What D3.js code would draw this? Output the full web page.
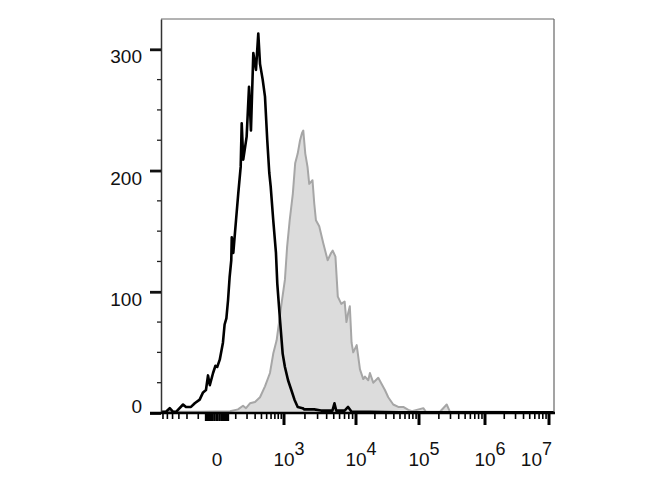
<!DOCTYPE html>
<html>
<head>
<meta charset="utf-8">
<script src="https://cdn.jsdelivr.net/npm/d3@7"></script>
<style>
  html, body { margin: 0; padding: 0; background: #fff; }
  svg { display: block; font-family: "Liberation Sans", Arial, sans-serif; }
</style>
</head>
<body>
<svg id="chart" width="670" height="500"></svg>
<script>
// ---- Data (fluorescence value, event count) ----
const controlHistogram = [
  [-649, 1], [-528, 1], [-452, 4], [-391, 1], [-342, 1], [-245, 7], [-211, 5], [-160, 5],
  [-127, 8], [-90, 11], [-68, 17], [-51, 19], [-40, 31], [-31, 23], [-16, 33], [-6, 39],
  [1, 38], [11, 44], [25, 58], [33, 73], [42, 78], [51, 93], [60, 112], [70, 126],
  [73, 145], [83, 132], [102, 159], [119, 181], [139, 203], [148, 239], [162, 209],
  [196, 228], [222, 269], [245, 233], [275, 297], [312, 283], [347, 313], [375, 288],
  [422, 275], [466, 261], [513, 225], [558, 198], [591, 187], [656, 159], [731, 132],
  [770, 107], [856, 77], [950, 49], [1032, 38], [1147, 27], [1279, 19], [1421, 11],
  [1580, 5], [1854, 4], [1958, 3], [2697, 3], [3342, 2], [4797, 2], [5110, 8], [5395, 2],
  [7025, 2], [7816, 5], [8715, 1], [16670, 1], [49900, 0.5], [295000, 0.5],
  [1710000, 0.5], [12000000, 0.5]
];
const stainedHistogram = [
  [-649, 1], [-88, 1], [62, 1.5], [117, 3], [160, 6], [189, 4], [233, 8], [298, 9],
  [375, 13], [466, 22], [574, 33], [656, 49], [751, 60], [914, 91], [1032, 110],
  [1111, 137], [1212, 159], [1346, 181], [1454, 206], [1580, 214], [1707, 225],
  [1820, 231], [1896, 233], [2022, 214], [2175, 203], [2296, 189], [2552, 192],
  [2697, 173], [2847, 159], [3162, 154], [3594, 140], [4125, 126], [4597, 132],
  [4839, 134], [5270, 129], [5675, 96], [6324, 90], [7025, 92], [7430, 75], [7816, 82],
  [8254, 88], [8715, 58], [9173, 50], [10260, 56], [11570, 36], [13060, 28], [13900, 30],
  [15680, 27], [16670, 33], [18820, 25], [22620, 29], [25580, 24], [28840, 19],
  [32570, 13], [39090, 7], [46930, 5], [56370, 5], [67680, 2.5], [77400, 1.5],
  [116200, 4], [127600, 1], [208000, 1], [263000, 7], [295000, 1], [1710000, 1],
  [12000000, 0.5]
];
const yTickValues = [0, 100, 200, 300];
const yTickLabels = ["0", "100", "200", "300"];
const xTickValues = [0, 1e3, 1e4, 1e5, 1e6, 1e7];
const xTickLabels = ["0", "10^3", "10^4", "10^5", "10^6", "10^7"];

// ---- Layout ----
const svg = d3.select("#chart");
const M = { left: 161, right: 554, top: 19, bottom: 413 };

// biexponential-like display scale (linear near zero, log for large values)
const x = d3.scaleSymlog().constant(110)
  .domain([-650, 0, 1e3, 1e4, 1e5, 1e6, 1e7, 1.2e7])
  .range([M.left, 217, 284, 356, 419, 485, 549, M.right]);
const y = d3.scaleLinear().domain([0, 325]).range([M.bottom, M.top]);

// ---- Histograms ----
const area = d3.area().x(d => x(d[0])).y0(y(0)).y1(d => y(d[1]));
const line = d3.line().x(d => x(d[0])).y(d => y(d[1]));

svg.append("path").datum(stainedHistogram)
  .attr("d", area).attr("fill", "#dcdcdc").attr("stroke", "none");
svg.append("path").datum(stainedHistogram)
  .attr("d", line).attr("fill", "none").attr("stroke", "#a6a6a6")
  .attr("stroke-width", 2).attr("stroke-linejoin", "round");
svg.append("path").datum(controlHistogram)
  .attr("d", line).attr("fill", "none").attr("stroke", "#000")
  .attr("stroke-width", 2.6).attr("stroke-linejoin", "round");

// ---- Frame ----
svg.append("line").attr("x1", M.left).attr("x2", M.right).attr("y1", M.top).attr("y2", M.top)
  .attr("stroke", "#666").attr("stroke-width", 1);
svg.append("line").attr("x1", M.right).attr("x2", M.right).attr("y1", M.top).attr("y2", M.bottom)
  .attr("stroke", "#666").attr("stroke-width", 1.2);

// ---- Y axis ----
const yMinor = d3.range(25, 325, 25).filter(v => v % 100 !== 0);
const yAxisMajor = d3.axisLeft(y).tickValues(yTickValues)
  .tickFormat((d, i) => yTickLabels[i]).tickSize(11).tickSizeOuter(0).tickPadding(8);
const gy = svg.append("g").attr("transform", `translate(${M.left},0)`).call(yAxisMajor);
gy.select(".domain").attr("stroke", "#333").attr("stroke-width", 1.5);
gy.selectAll(".tick line").attr("stroke", "#111").attr("stroke-width", 2.8);
gy.selectAll(".tick text").attr("font-size", 19).attr("fill", "#111")
  .attr("font-family", "Liberation Sans, Arial, sans-serif")
  .attr("dy", d => d === 0 ? "-0.02em" : "0.72em");
svg.append("g").selectAll("line").data(yMinor).join("line")
  .attr("x1", M.left - 4).attr("x2", M.left).attr("y1", d => y(d)).attr("y2", d => y(d))
  .attr("stroke", "#222").attr("stroke-width", 1.3);

// ---- X axis ----
const xMinor = [];
for (let v = -600; v <= -100; v += 100) xMinor.push(v);
for (let v = -50; v <= 50; v += 10) xMinor.push(v);
for (let v = 100; v <= 900; v += 100) xMinor.push(v);
for (let e = 3; e <= 6; e++) for (let m = 2; m <= 9; m++) xMinor.push(m * Math.pow(10, e));

svg.append("line").attr("x1", 150).attr("x2", M.right + 1).attr("y1", M.bottom).attr("y2", M.bottom)
  .attr("stroke", "#000").attr("stroke-width", 2.6);
svg.append("g").selectAll("line").data(xMinor).join("line")
  .attr("x1", d => x(d)).attr("x2", d => x(d))
  .attr("y1", M.bottom).attr("y2", d => Math.abs(d) <= 50 ? M.bottom + 8 : M.bottom + 6)
  .attr("stroke", "#000").attr("stroke-width", d => Math.abs(d) <= 50 ? 2.6 : 1.6);
svg.append("g").selectAll("line").data(xTickValues.filter(v => v > 0)).join("line")
  .attr("x1", d => x(d)).attr("x2", d => x(d))
  .attr("y1", M.bottom).attr("y2", M.bottom + 12)
  .attr("stroke", "#000").attr("stroke-width", 3);

const xl = svg.append("g").attr("font-size", 19).attr("fill", "#111");
xTickValues.forEach((v, i) => {
  const parts = xTickLabels[i].split("^");
  const last = i === xTickValues.length - 1;
  const t = xl.append("text").attr("y", 466).attr("fill", "#111");
  t.append("tspan").text(parts[0]);
  if (parts[1]) t.append("tspan").attr("font-size", 18).attr("dy", -11).text(parts[1]);
  const w = t.node().getComputedTextLength();
  const baseW = t.select("tspan").node().getComputedTextLength();
  const xpos = last ? x(v) + 3 - w : x(v) - baseW / 2;
  t.attr("x", xpos);
});
</script>
</body>
</html>
